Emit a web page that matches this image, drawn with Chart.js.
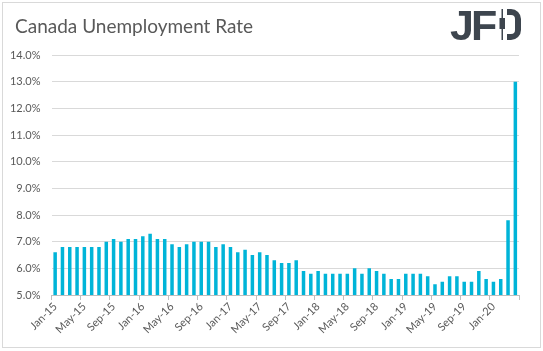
<!DOCTYPE html>
<html>
<head>
<meta charset="utf-8">
<script src="https://cdn.jsdelivr.net/npm/chart.js@4/dist/chart.umd.min.js"></script>
<style>
  html, body { margin: 0; padding: 0; background: #fff; }
  #wrap { width: 543px; height: 351px; }
</style>
</head>
<body>
<div id="wrap"><canvas id="rateChart" width="543" height="351"></canvas></div>
<script>
// Canada unemployment rate, monthly

const months = [
  "Jan-15", "Feb-15", "Mar-15", "Apr-15", "May-15", "Jun-15", "Jul-15", "Aug-15", "Sep-15", "Oct-15", "Nov-15", "Dec-15",
  "Jan-16", "Feb-16", "Mar-16", "Apr-16", "May-16", "Jun-16", "Jul-16", "Aug-16", "Sep-16", "Oct-16", "Nov-16", "Dec-16",
  "Jan-17", "Feb-17", "Mar-17", "Apr-17", "May-17", "Jun-17", "Jul-17", "Aug-17", "Sep-17", "Oct-17", "Nov-17", "Dec-17",
  "Jan-18", "Feb-18", "Mar-18", "Apr-18", "May-18", "Jun-18", "Jul-18", "Aug-18", "Sep-18", "Oct-18", "Nov-18", "Dec-18",
  "Jan-19", "Feb-19", "Mar-19", "Apr-19", "May-19", "Jun-19", "Jul-19", "Aug-19", "Sep-19", "Oct-19", "Nov-19", "Dec-19",
  "Jan-20", "Feb-20", "Mar-20", "Apr-20"
];

const rates = [
  6.6, 6.8, 6.8, 6.8, 6.8, 6.8, 6.8, 7.0, 7.1, 7.0, 7.1, 7.1,
  7.2, 7.3, 7.1, 7.1, 6.9, 6.8, 6.9, 7.0, 7.0, 7.0, 6.8, 6.9,
  6.8, 6.6, 6.7, 6.5, 6.6, 6.5, 6.3, 6.2, 6.2, 6.3, 5.9, 5.8,
  5.9, 5.8, 5.8, 5.8, 5.8, 6.0, 5.8, 6.0, 5.9, 5.8, 5.6, 5.6,
  5.8, 5.8, 5.8, 5.7, 5.4, 5.5, 5.7, 5.7, 5.5, 5.5, 5.9, 5.6,
  5.5, 5.6, 7.8, 13.0
];

const yMin = 5;
const yMax = 14;

const textGray = "#595959";
const logoGray = "#3d454e";

// title, logo and outer frame
const decorations = {
  id: "decorations",
  afterDraw(chart) {
    const ctx = chart.ctx;
    ctx.save();
    ctx.strokeStyle = "#d9d9d9";
    ctx.lineWidth = 1;
    ctx.strokeRect(2.5, 2.5, 538, 345);

    ctx.fillStyle = textGray;
    ctx.font = "19px Lato";
    ctx.textBaseline = "alphabetic";
    ctx.fillText("Canada Unemployment Rate", 15, 33);

    // JFD logo: J and F as text, the D drawn as a candle plus a bowl
    ctx.fillStyle = logoGray;
    ctx.font = "bold 43px 'Liberation Sans'";
    ctx.fillText("J", 450, 40);
    ctx.fillText("F", 471, 40);
    ctx.fillRect(501.5, 9, 1.5, 31);
    ctx.fillRect(499.5, 18, 5.5, 11);
    ctx.strokeStyle = logoGray;
    ctx.lineWidth = 6;
    ctx.beginPath();
    ctx.moveTo(507, 12);
    ctx.lineTo(510, 12);
    ctx.arcTo(518, 12, 518, 20, 7);
    ctx.lineTo(518, 29);
    ctx.arcTo(518, 37, 510, 37, 7);
    ctx.lineTo(507, 37);
    ctx.stroke();
    ctx.restore();
  }
};

new Chart("rateChart", {
  type: "bar",
  data: {
    labels: months,
    datasets: [{
      data: rates,
      backgroundColor: "#00b4d8",
      barPercentage: 0.48,
      categoryPercentage: 1
    }]
  },
  options: {
    responsive: false,
    animation: false,
    layout: {
      padding: { top: 55, left: 2, right: 24, bottom: 4 }
    },
    scales: {
      x: {
        afterFit: (s) => { s.height = 52; },
        grid: {
          offset: true,
          drawOnChartArea: false,
          tickLength: 5,
          color: (c) => (c.index === undefined || c.index % 4 === 0) ? "#bfbfbf" : "rgba(0,0,0,0)"
        },
        border: { color: "#bfbfbf" },
        ticks: {
          autoSkip: false,
          maxRotation: 45,
          minRotation: 45,
          padding: 0,
          color: textGray,
          font: { family: "Lato", size: 11 },
          callback: (v, i) => i % 4 === 0 ? months[i] : ""
        }
      },
      y: {
        min: yMin,
        max: yMax,
        afterFit: (s) => { s.width = 49.5; },
        grid: {
          color: "#d9d9d9",
          drawTicks: false
        },
        border: { display: false },
        ticks: {
          stepSize: 1,
          padding: 11,
          color: textGray,
          font: { family: "Lato", size: 11 },
          callback: (v) => v.toFixed(1) + "%"
        }
      }
    },
    plugins: {
      legend: { display: false },
      tooltip: { enabled: false }
    }
  },
  plugins: [decorations]
});
</script>
</body>
</html>
